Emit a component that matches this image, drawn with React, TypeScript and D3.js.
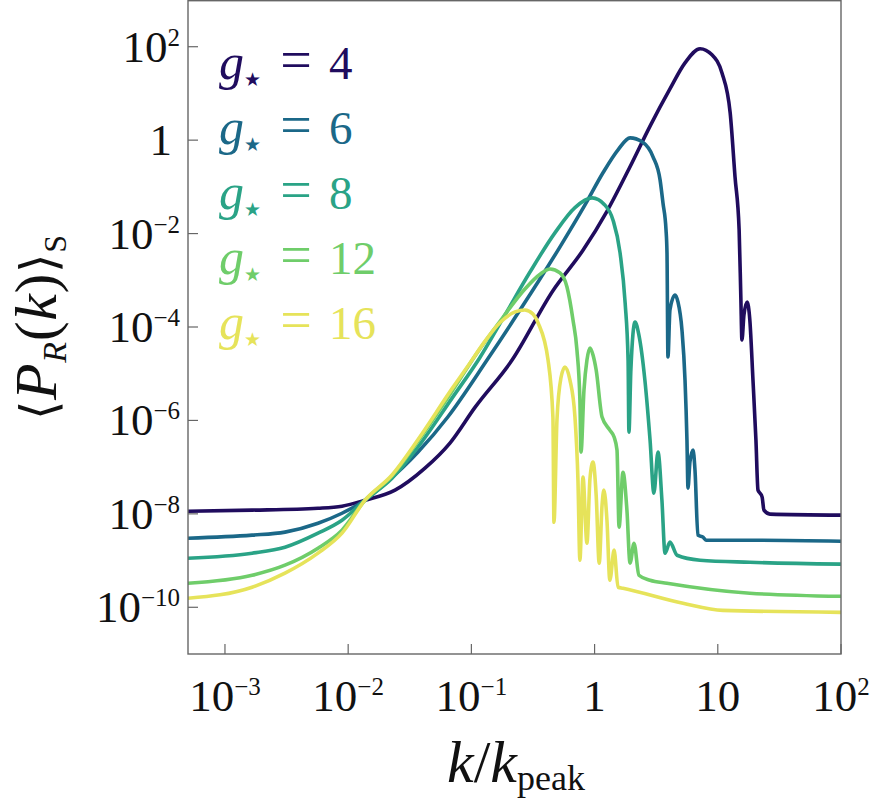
import * as d3 from "d3";
import React from "react";

const W = 873;
const H = 804;
const X0 = 188;
const X1 = 841;
const Y0 = 654;
const Y1 = 0;

const gValues = [4, 6, 8, 12, 16];
const colors = ["#200c5e", "#1b6888", "#2aa386", "#6fcd6a", "#e6e35a"];

// [k/kpeak, <P_R(k)>_S]
const g4Data: [number, number][] = [
  [5.0e-4, 1.14e-8], [1.66e-3, 1.2e-8], [5.69e-3, 1.32e-8], [8.91e-3, 1.46e-8],
  [1.37e-2, 1.96e-8], [2.4e-2, 3.22e-8], [4.2e-2, 9.5e-8], [6.7e-2, 3.27e-7],
  [0.107, 1.9e-6], [0.214, 1.96e-5], [0.459, 6.0e-4], [0.805, 4.4e-3],
  [1.26, 0.03], [1.94, 0.27], [2.82, 2.0], [4.09, 12.5], [5.42, 45],
  [7.18, 90.6], [8.97, 67], [10.8, 27.7], [12.6, 3.85], [13.8, 0.164],
  [14.9, 0.012], [15.4, 3.79e-4], [15.7, 5.27e-5], [16.3, 1.81e-4],
  [17.3, 3.44e-4], [18.2, 1.41e-4], [19.3, 7.3e-6], [20.4, 3.79e-7],
  [21.2, 3.22e-8], [22.0, 2.78e-8], [22.9, 2.28e-8], [23.7, 1.2e-8],
  [26.5, 9.86e-9], [100, 9.4e-9],
];

const g6Data: [number, number][] = [
  [5.0e-4, 3.01e-9], [1.66e-3, 3.5e-9], [3.07e-3, 4.06e-9], [5.69e-3, 6.3e-9],
  [8.91e-3, 1.03e-8], [1.37e-2, 1.96e-8], [1.99e-2, 4.4e-8], [3.69e-2, 2.1e-7],
  [6.46e-2, 1.2e-6], [0.134, 1.96e-5], [0.248, 2.3e-4],
  [0.524, 5.2e-3], [0.836, 0.041], [1.17, 0.2], [1.55, 0.62], [1.94, 1.12],
  [2.43, 0.92], [2.98, 0.44], [3.4, 0.141], [3.59, 0.045], [3.8, 0.012],
  [3.87, 3.86e-3], [3.94, 2.28e-5], [4.09, 2.32e-4], [4.5, 4.85e-4],
  [4.75, 3.44e-4], [5.12, 8.6e-5], [5.42, 7.3e-6], [5.62, 3.79e-7],
  [5.73, 3.56e-8], [5.94, 1.28e-7], [6.3, 2.32e-7], [6.53, 8.6e-8],
  [6.9, 3.5e-9], [7.59, 3.17e-9], [8.02, 2.73e-9], [18.2, 2.73e-9], [100, 2.6e-9],
];

const g8Data: [number, number][] = [
  [5.0e-4, 1.12e-9], [1.66e-3, 1.44e-9], [3.07e-3, 1.93e-9], [5.69e-3, 3.86e-9],
  [8.91e-3, 7.3e-9], [1.37e-2, 1.96e-8], [2.27e-2, 5.8e-8], [3.69e-2, 2.7e-7],
  [6.97e-2, 3.0e-6], [0.117, 2.2e-5], [0.187, 1.8e-4], [0.299, 1.5e-3],
  [0.478, 0.0105], [0.693, 0.036], [0.953, 0.058], [1.21, 0.041], [1.41, 0.0196],
  [1.61, 3.86e-3], [1.77, 3.27e-4], [1.87, 1.96e-5], [1.9, 5.6e-7],
  [1.97, 1.2e-5], [2.13, 1.28e-4], [2.29, 6.7e-5], [2.56, 7.3e-6],
  [2.82, 3.79e-7], [3.03, 2.78e-8], [3.27, 2.1e-7], [3.52, 1.96e-8],
  [3.73, 1.44e-9], [4.09, 2.48e-9], [4.67, 1.3e-9], [7.18, 1.02e-9],
  [18.2, 9.2e-10], [100, 8.4e-10],
];

const g12Data: [number, number][] = [
  [5.0e-4, 3.27e-10], [1.66e-3, 4.85e-10], [3.07e-3, 7.96e-10], [5.69e-3, 1.84e-9],
  [8.91e-3, 4.48e-9], [1.37e-2, 1.96e-8], [2.27e-2, 6.5e-8], [3.69e-2, 3.6e-7],
  [6.97e-2, 4.2e-6], [0.107, 2.4e-5], [0.18, 1.6e-4], [0.272, 6.5e-4],
  [0.361, 1.35e-3], [0.435, 1.75e-3], [0.524, 1.44e-3], [0.597, 7.2e-4],
  [0.668, 1.41e-4], [0.719, 3.22e-5], [0.76, 2.73e-6], [0.776, 2.1e-7],
  [0.82, 4.47e-6], [0.867, 1.96e-5], [0.918, 3.55e-5], [0.971, 2.51e-5],
  [1.03, 1.2e-5], [1.15, 1.18e-6], [1.33, 6.2e-7], [1.44, 4.4e-7],
  [1.52, 2.32e-7], [1.58, 5.2e-9], [1.7, 7.8e-8], [1.83, 1.2e-8],
  [1.94, 8.8e-10], [2.09, 2.35e-9], [2.29, 4.85e-10], [2.82, 3.79e-10],
  [3.87, 3.27e-10], [18.2, 2.0e-10], [100, 1.72e-10],
];

const g16Data: [number, number][] = [
  [5.0e-4, 1.56e-10], [1.66e-3, 2.69e-10], [3.07e-3, 5.37e-10], [5.69e-3, 1.44e-9],
  [8.91e-3, 3.86e-9], [1.37e-2, 1.96e-8], [2.27e-2, 6.8e-8], [3.69e-2, 3.9e-7],
  [6.97e-2, 4.8e-6], [9.75e-2, 1.7e-5], [0.124, 4.3e-5], [0.171, 1.25e-4],
  [0.226, 2.1e-4], [0.272, 2.32e-4], [0.316, 1.9e-4], [0.348, 1.22e-4],
  [0.419, 1.96e-5], [0.459, 1.18e-6], [0.468, 6.6e-9], [0.495, 1.02e-6],
  [0.533, 8.1e-6], [0.575, 1.39e-5], [0.631, 7.3e-6], [0.693, 1.18e-6],
  [0.733, 5.27e-8], [0.76, 1.02e-9], [0.805, 6.1e-8], [0.867, 2.35e-9],
  [0.918, 5.8e-8], [0.971, 1.28e-7], [1.03, 2.52e-8], [1.09, 8.8e-10],
  [1.15, 1.53e-8], [1.19, 3.22e-8], [1.26, 7.3e-9], [1.33, 3.79e-10],
  [1.44, 1.67e-9], [1.55, 2.69e-10], [1.7, 2.56e-10], [5.22, 1.22e-10],
  [11.0, 8.6e-11], [100, 7.8e-11],
];

const series = [g4Data, g6Data, g8Data, g12Data, g16Data];

const xTicks = [1e-3, 1e-2, 1e-1, 1, 10, 100];
const xTickLabels = [["10", "−3"], ["10", "−2"], ["10", "−1"], ["1", ""], ["10", ""], ["10", "2"]];
const yTicks = [1e2, 1, 1e-2, 1e-4, 1e-6, 1e-8, 1e-10];
const yTickLabels = [["10", "2"], ["1", ""], ["10", "−2"], ["10", "−4"], ["10", "−6"], ["10", "−8"], ["10", "−10"]];

const FONT = "Liberation Serif, DejaVu Serif, serif";
const SYM = "DejaVu Sans, sans-serif";

const App = () => {
  const x = d3.scaleLog().domain([Math.pow(10, -3.3), 100]).range([X0, X1]);
  const y = d3.scaleLog().domain([1e-11, 1e3]).range([Y0, Y1]);
  const line = d3
    .line<[number, number]>()
    .x((d) => x(d[0]))
    .y((d) => y(d[1]))
    .curve(d3.curveMonotoneX);

  const axisColor = "#666";

  return (
    <svg
      width={W}
      height={H}
      viewBox={`0 0 ${W} ${H}`}
      style={{ position: "absolute", left: 0, top: 0, background: "#fff", fontFamily: FONT }}
    >
      <defs>
        <clipPath id="plot">
          <rect x={X0} y={Y1} width={X1 - X0} height={Y0 - Y1} />
        </clipPath>
      </defs>

      <g clipPath="url(#plot)">
        {series.map((s, i) => (
          <path
            key={i}
            d={line(s) || ""}
            fill="none"
            stroke={colors[i]}
            strokeWidth={3.6}
            strokeLinejoin="round"
            strokeLinecap="round"
          />
        ))}
      </g>

      <rect x={X0} y={Y1 + 0.7} width={X1 - X0} height={Y0 - Y1 - 0.7} fill="none" stroke={axisColor} strokeWidth={1.4} />

      {xTicks.map((t, i) => (
        <g key={"xt" + i}>
          <line x1={x(t)} x2={x(t)} y1={Y0} y2={Y0 - 10} stroke={axisColor} strokeWidth={1.2} />
          <text x={x(t)} y={711} textAnchor="middle" fontSize={45} fill="#111" style={{ fontFamily: FONT }}>
            {xTickLabels[i][0]}
            {xTickLabels[i][1] && (
              <tspan fontSize={25} dy={-16}>
                {xTickLabels[i][1]}
              </tspan>
            )}
          </text>
        </g>
      ))}

      {yTicks.map((t, i) => (
        <g key={"yt" + i}>
          <line x1={X0} x2={X0 + 10} y1={y(t)} y2={y(t)} stroke={axisColor} strokeWidth={1.2} />
          <text x={yTickLabels[i][1] ? 180 : 172} y={y(t) + 15} textAnchor="end" fontSize={45} fill="#111" style={{ fontFamily: FONT }}>
            {yTickLabels[i][0]}
            {yTickLabels[i][1] && (
              <tspan fontSize={25} dy={-16}>
                {yTickLabels[i][1]}
              </tspan>
            )}
          </text>
        </g>
      ))}

      {gValues.map((g, i) => {
        const by = 79 + i * 65;
        return (
          <g key={"lg" + i} fill={colors[i]}>
            <text x={219} y={by} fontSize={50} fontStyle="italic" style={{ fontFamily: FONT }}>g</text>
            <text x={244} y={by + 7} fontSize={19} style={{ fontFamily: SYM }}>★</text>
            <text x={296} y={by} textAnchor="middle" fontSize={56} style={{ fontFamily: FONT }}>=</text>
            <text x={329} y={by} fontSize={47} style={{ fontFamily: FONT }}>{g}</text>
          </g>
        );
      })}

      <text x={516} y={782} textAnchor="middle" fontSize={60} fill="#111" style={{ fontFamily: FONT }}>
        <tspan fontStyle="italic">k</tspan>
        <tspan>/</tspan>
        <tspan fontStyle="italic">k</tspan>
        <tspan fontSize={36} dy={8}>peak</tspan>
      </text>

      <text transform="translate(56,420) rotate(-90)" textLength={185} lengthAdjust="spacing" fontSize={60} fill="#111" style={{ fontFamily: FONT }}>
        <tspan style={{ fontFamily: SYM }} fontSize={50}>⟨</tspan>
        <tspan fontStyle="italic">P</tspan>
        <tspan fontStyle="italic" fontSize={34} dy={10}>R</tspan>
        <tspan dy={-10}>(</tspan>
        <tspan fontStyle="italic">k</tspan>
        <tspan>)</tspan>
        <tspan style={{ fontFamily: SYM }} fontSize={50}>⟩</tspan>
        <tspan fontSize={32} dy={10}>S</tspan>
      </text>
    </svg>
  );
};

export default App;
